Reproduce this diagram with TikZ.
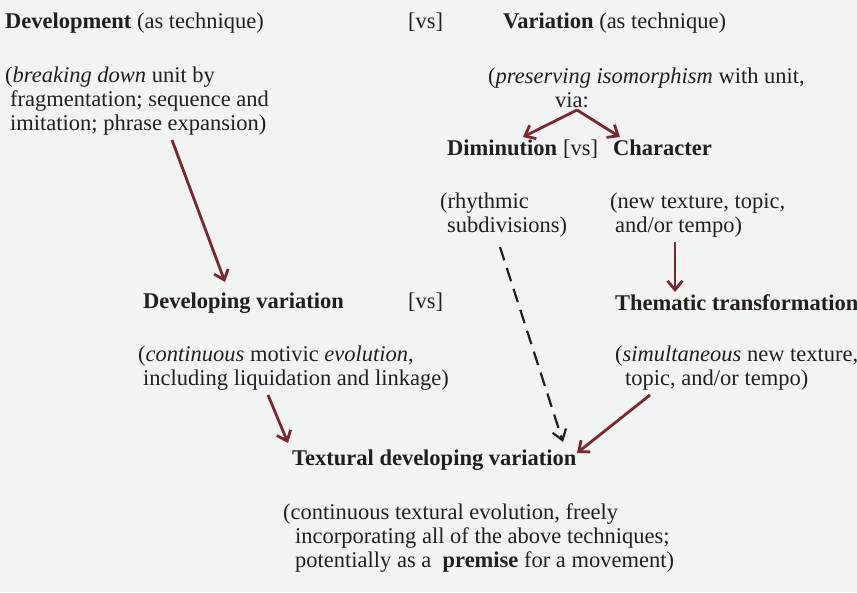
\documentclass[tikz,border=0pt]{standalone}
\usepackage{fontspec}
\setmainfont{Liberation Serif}
\usetikzlibrary{arrows.meta}
\definecolor{paper}{RGB}{242,244,244}
\definecolor{ink}{RGB}{34,30,30}
\definecolor{wine}{RGB}{122,40,46}

\begin{document}
\begin{tikzpicture}[x=1pt,y=-1pt]
        \tikzstyle{every node} = [rectangle, inner sep=0pt, anchor=base west, align=left, text=ink, font=\fontsize{22.5}{24}\selectfont]
        \tikzstyle{redarrow} = [draw=wine, line width=2.8pt, -{Straight Barb[length=9pt,width=15pt]}]
        \tikzstyle{dasharrow} = [draw=ink, line width=2.2pt, dash pattern=on 14pt off 8pt, -{Straight Barb[length=10pt,width=14pt]}]
        \fill[paper] (0,0) rectangle (857,592);
        \useasboundingbox (0,0) rectangle (857,592);
        % top row (multi-line nodes sit on their last baseline)
        \node (dev) at (5,28) {\textbf{Development} (as technique)};
        \node (vsa) at (408,28) {[vs]};
        \node (var) at (503,28) {\textbf{Variation} (as technique)};
        \node (devnote) at (5,130) {(\emph{breaking down} unit by\\\hspace*{5pt}fragmentation; sequence and\\\hspace*{5pt}imitation; phrase expansion)};
        \node (varnote) at (488,83) {(\emph{preserving isomorphism} with unit,};
        \node (via) at (555,107) {via:};
        % variation kinds
        \node (dim) at (447,155) {\textbf{Diminution}};
        \node (vsb) at (563,155) {[vs]};
        \node (char) at (613,155) {\textbf{Character}};
        \node (dimnote) at (440,232) {(rhythmic\\\hspace*{7pt}subdivisions)};
        \node (charnote) at (610,232) {(new texture, topic,\\\hspace*{5pt}and/or tempo)};
        % middle row
        \node (devvar) at (143,308) {\textbf{Developing variation}};
        \node (vsc) at (408,308) {[vs]};
        \node (thema) at (615,310) {\textbf{Thematic transformation}};
        \node (devvarnote) at (138,385) {(\emph{continuous} motivic \emph{evolution},\\\hspace*{5pt}including liquidation and linkage)};
        \node (themanote) at (615,385) {(\emph{simultaneous} new texture,\\\hspace*{10pt}topic, and/or tempo)};
        % result
        \node (textural) at (292,465) {\textbf{Textural developing variation}};
        \node (texnote) at (283,567) {(continuous textural evolution, freely\\\hspace*{12pt}incorporating all of the above techniques;\\\hspace*{12pt}potentially as a \ \textbf{premise} for a movement)};
        % arrow ends
        \coordinate (devout) at (172,140);
        \coordinate (devvarin) at (225,282);
        \coordinate (viaout) at (577,110);
        \coordinate (dimin) at (523,137);
        \coordinate (charin) at (620,137);
        \coordinate (charout) at (675,242);
        \coordinate (themain) at (675,292);
        \coordinate (devvarout) at (268,395);
        \coordinate (texleft) at (288,443);
        \coordinate (themaout) at (650,395);
        \coordinate (texright) at (577,453);
        \coordinate (dimout) at (500,247);
        \coordinate (texmid) at (563,442);
        \foreach \from/\to in {devout/devvarin, viaout/dimin, viaout/charin, charout/themain, devvarout/texleft, themaout/texright}
            \draw[redarrow] (\from) -- (\to);
        \draw[dasharrow] (dimout) -- (texmid);
\end{tikzpicture}
\end{document}
